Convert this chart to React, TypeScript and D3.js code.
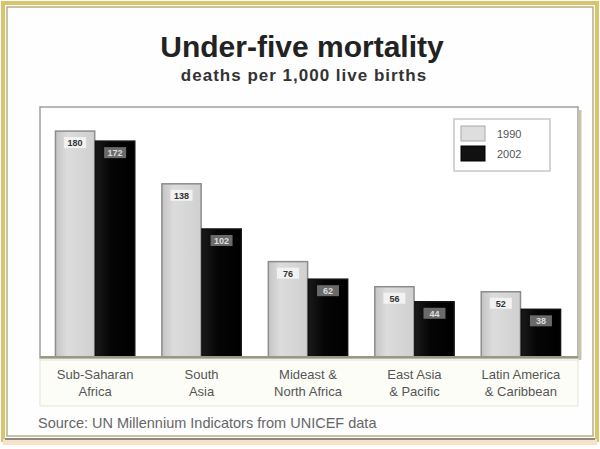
import React from "react";
import * as d3 from "d3";

const categories = [
  ["Sub-Saharan", "Africa"],
  ["South", "Asia"],
  ["Mideast &", "North Africa"],
  ["East Asia", "& Pacific"],
  ["Latin America", "& Caribbean"],
];
const series = ["1990", "2002"];
const values1990 = [180, 138, 76, 56, 52];
const values2002 = [172, 102, 62, 44, 38];

const W = 600;
const H = 449;

export default function App() {
  const x = d3
    .scaleBand<number>()
    .domain(d3.range(categories.length))
    .range([44, 572])
    .paddingInner(0.24)
    .paddingOuter(0.1);
  const sub = d3.scaleBand<string>().domain(series).range([0, x.bandwidth()]).padding(0.02);
  const y = d3.scaleLinear().domain([0, 200]).range([357, 106]);
  const font = "Liberation Sans, Arial, sans-serif";
  const data = [values1990, values2002];

  return (
    <svg width={W} height={H} style={{ position: "absolute", left: 0, top: 0 }}>
      <defs>
        <linearGradient id="lg" x1="0" x2="1" y1="0" y2="0">
          <stop offset="0" stopColor="#c4c4c4" />
          <stop offset="0.3" stopColor="#dcdcdc" />
          <stop offset="1" stopColor="#d0d0d0" />
        </linearGradient>
        <linearGradient id="bg" x1="0" x2="1" y1="0" y2="0">
          <stop offset="0" stopColor="#1a1a1a" />
          <stop offset="0.4" stopColor="#050505" />
          <stop offset="1" stopColor="#000" />
        </linearGradient>
      </defs>
      <rect x={0} y={0} width={W} height={H} fill="#ffffff" />
      {/* outer frame */}
      <rect x={3} y={3} width={W - 6} height={H - 12} fill="#fdfdf6" stroke="#d8c46a" strokeWidth={4} />
      <rect x={7} y={7} width={W - 14} height={H - 20} fill="#fefefe" stroke="#b9ad88" strokeWidth={1.5} />
      <rect x={3} y={H - 10} width={W - 6} height={6} fill="#f8e2c8" />
      <line x1={5} x2={W - 5} y1={H - 10} y2={H - 10} stroke="#8a8a8a" strokeWidth={2} />

      {/* titles */}
      <text x={302} y={57} textAnchor="middle" fontFamily={font} fontWeight="bold" fontSize={30} fill="#222">
        Under-five mortality
      </text>
      <text x={304} y={81} textAnchor="middle" fontFamily={font} fontWeight="bold" fontSize={17} letterSpacing={1} fill="#333">
        deaths per 1,000 live births
      </text>

      {/* plot frame */}
      <rect x={40} y={107} width={538} height={251} fill="#ffffff" stroke="#a0a0a0" strokeWidth={1.5} />
      <line x1={580} x2={580} y1={110} y2={360} stroke="#c9c6a8" strokeWidth={3} />

      {/* bars */}
      {categories.map((c, i) =>
        series.map((s, j) => {
          const v = data[j][i];
          const bx = (x(i) as number) + (sub(s) as number);
          const bw = sub.bandwidth();
          const top = y(v);
          return (
            <g key={`${i}-${s}`}>
              <rect
                x={bx}
                y={top}
                width={bw}
                height={y(0) - top}
                fill={j === 0 ? "url(#lg)" : "url(#bg)"}
                stroke={j === 0 ? "#8c8c8c" : "#111"}
                strokeWidth={1.5}
              />
              <rect
                x={bx + bw / 2 - 11}
                y={top + 6}
                width={22}
                height={11}
                fill={j === 0 ? "#f2f2f2" : "#6a6a6a"}
              />
              <text
                x={bx + bw / 2}
                y={top + 15}
                textAnchor="middle"
                fontFamily={font}
                fontWeight="bold"
                fontSize={9}
                fill={j === 0 ? "#333" : "#dddddd"}
              >
                {v}
              </text>
            </g>
          );
        })
      )}
      <line x1={40} x2={578} y1={y(0)} y2={y(0)} stroke="#9a9a7a" strokeWidth={2} />

      {/* category labels */}
      <rect x={40} y={360} width={538} height={46} fill="#fdfdf8" stroke="#e4e4d8" strokeWidth={1} />
      {categories.map((c, i) => {
        const cx = (x(i) as number) + x.bandwidth() / 2;
        return (
          <g key={`cat-${i}`}>
            {c.map((line, k) => (
              <text
                key={k}
                x={cx}
                y={379 + k * 17}
                textAnchor="middle"
                fontFamily={font}
                fontSize={13}
                fill="#555"
              >
                {line}
              </text>
            ))}
          </g>
        );
      })}

      {/* legend */}
      <rect x={454} y={119} width={96} height={52} fill="#ffffff" stroke="#c8c8c8" strokeWidth={1.5} />
      {series.map((s, j) => (
        <g key={`leg-${s}`}>
          <rect
            x={461}
            y={126 + j * 20}
            width={24}
            height={15}
            fill={j === 0 ? "#dedede" : "#111"}
            stroke={j === 0 ? "#aaa" : "#000"}
          />
          <text x={497} y={138 + j * 20} fontFamily={font} fontSize={11} fill="#555">
            {s}
          </text>
        </g>
      ))}

      {/* source */}
      <text x={38} y={428} fontFamily={font} fontSize={14.5} fill="#666">
        Source: UN Millennium Indicators from UNICEF data
      </text>
    </svg>
  );
}
